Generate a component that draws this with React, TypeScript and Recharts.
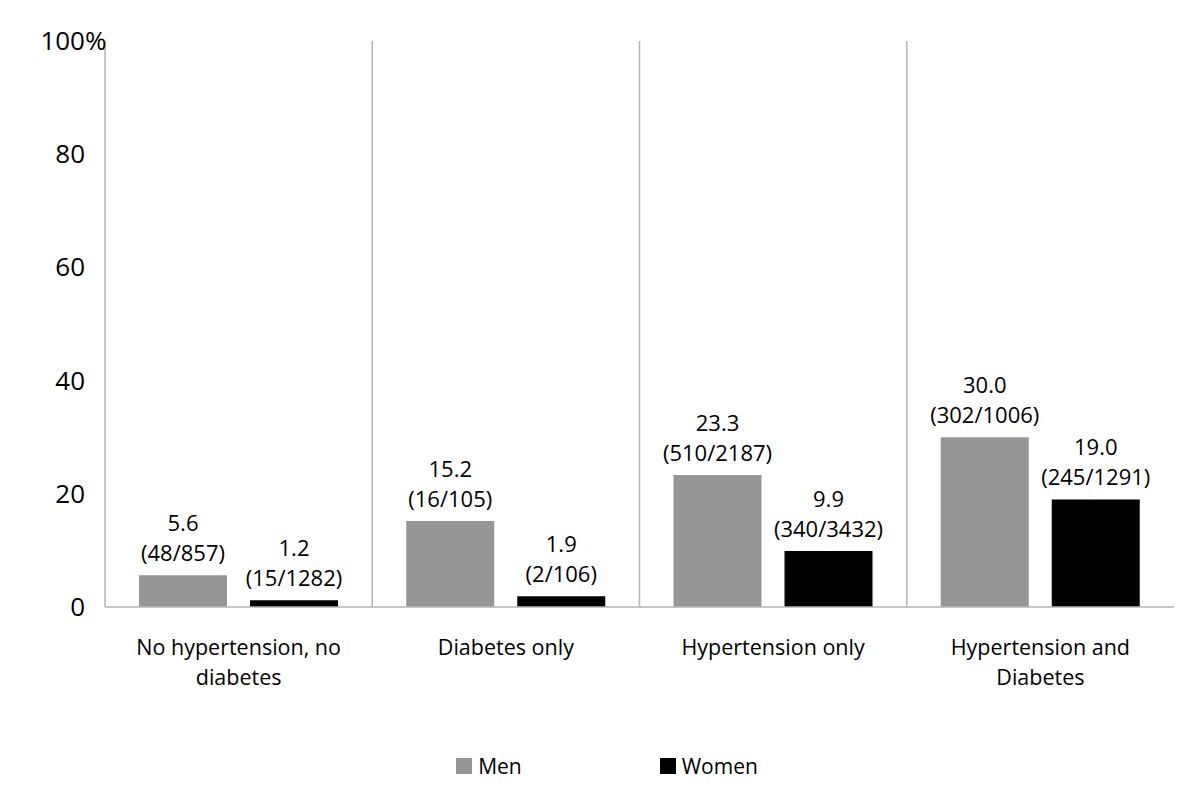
import React from "react";
import {
  BarChart,
  Bar,
  XAxis,
  YAxis,
  CartesianGrid,
  Legend,
  LabelList,
} from "recharts";

const categories = [
  "No hypertension, no diabetes",
  "Diabetes only",
  "Hypertension only",
  "Hypertension and Diabetes",
];
const menValues = [5.6, 15.2, 23.3, 30.0];
const womenValues = [1.2, 1.9, 9.9, 19.0];
const menCounts = ["(48/857)", "(16/105)", "(510/2187)", "(302/1006)"];
const womenCounts = ["(15/1282)", "(2/106)", "(340/3432)", "(245/1291)"];
const yTicks = [0, 20, 40, 60, 80, 100];

const MEN_COLOR = "#969696";
const WOMEN_COLOR = "#000000";
const LINE_COLOR = "#b4b4b4";
const FONT = "'Open Sans', 'Noto Sans', sans-serif";

const data = categories.map((c, i) => ({
  category: c,
  men: menValues[i],
  women: womenValues[i],
}));

function wrapWords(text: string, maxChars: number): string[] {
  const words = text.split(" ");
  const lines: string[] = [];
  let cur = "";
  for (const w of words) {
    const next = cur ? cur + " " + w : w;
    if (next.length > maxChars && cur) {
      lines.push(cur);
      cur = w;
    } else {
      cur = next;
    }
  }
  if (cur) lines.push(cur);
  return lines;
}

const XTick = (props: any) => {
  const { x, y, payload } = props;
  const lines = wrapWords(String(payload.value), 20);
  return (
    <g>
      {lines.map((l, i) => (
        <text
          key={i}
          x={x}
          y={y + 40 + i * 30}
          textAnchor="middle"
          fontSize={21.5}
          fill="#000"
          fontFamily={FONT}
        >
          {l}
        </text>
      ))}
    </g>
  );
};

const YTick = (props: any) => {
  const { y, payload } = props;
  const v = payload.value;
  return (
    <g>
      <text
        x={85}
        y={y + 9}
        textAnchor="end"
        fontSize={26}
        fill="#000"
        fontFamily={FONT}
      >
        {v}
      </text>
      {v === 100 ? (
        <text x={85} y={y + 9} textAnchor="start" fontSize={26} fill="#000" fontFamily={FONT}>
          %
        </text>
      ) : null}
    </g>
  );
};

const makeLabel = (counts: string[]) => (props: any) => {
  const { x, y, width, value, index } = props;
  const cx = x + width / 2;
  return (
    <g>
      <text x={cx} y={y - 44} textAnchor="middle" fontSize={22} fill="#000" fontFamily={FONT}>
        {Number(value).toFixed(1)}
      </text>
      <text x={cx} y={y - 14} textAnchor="middle" fontSize={22} fill="#000" fontFamily={FONT}>
        {counts[index]}
      </text>
    </g>
  );
};

const LegendContent = () => (
  <div
    style={{
      display: "flex",
      justifyContent: "center",
      alignItems: "center",
      fontFamily: FONT,
      fontSize: 21,
      color: "#000",
      height: 30,
      paddingLeft: 14,
    }}
  >
    <div style={{ display: "flex", alignItems: "center", marginRight: 138 }}>
      <span style={{ width: 16, height: 16, background: MEN_COLOR, display: "inline-block", marginRight: 6 }} />
      <span>Men</span>
    </div>
    <div style={{ display: "flex", alignItems: "center" }}>
      <span style={{ width: 16, height: 16, background: WOMEN_COLOR, display: "inline-block", marginRight: 6 }} />
      <span>Women</span>
    </div>
  </div>
);

export default function App() {
  return (
    <div style={{ position: "absolute", left: 0, top: 0, width: 1200, height: 805, background: "#fff" }}>
      <BarChart
        width={1200}
        height={805}
        data={data}
        margin={{ top: 41, right: 26, left: 0, bottom: 0 }}
        barSize={88}
        barGap={23}
        style={{ fontFamily: FONT }}
      >
        <CartesianGrid
          horizontal={false}
          vertical={true}
          stroke={LINE_COLOR}
          strokeWidth={1.5}
          verticalCoordinatesGenerator={({ offset }: any) => [
            offset.left,
            offset.left + offset.width / 4,
            offset.left + offset.width / 2,
            offset.left + (offset.width * 3) / 4,
          ]}
        />
        <XAxis
          dataKey="category"
          axisLine={{ stroke: LINE_COLOR, strokeWidth: 1.5 }}
          tickLine={false}
          tick={<XTick />}
          interval={0}
          height={168}
        />
        <YAxis
          domain={[0, 100]}
          ticks={yTicks}
          axisLine={false}
          tickLine={false}
          tick={<YTick />}
          width={105}
          interval={0}
        />
        <Legend
          verticalAlign="bottom"
          content={<LegendContent />}
          wrapperStyle={{ bottom: 24, left: 0, width: 1200 }}
        />
        <Bar dataKey="men" name="Men" fill={MEN_COLOR} isAnimationActive={false}>
          <LabelList dataKey="men" content={makeLabel(menCounts)} />
        </Bar>
        <Bar dataKey="women" name="Women" fill={WOMEN_COLOR} isAnimationActive={false}>
          <LabelList dataKey="women" content={makeLabel(womenCounts)} />
        </Bar>
      </BarChart>
    </div>
  );
}
